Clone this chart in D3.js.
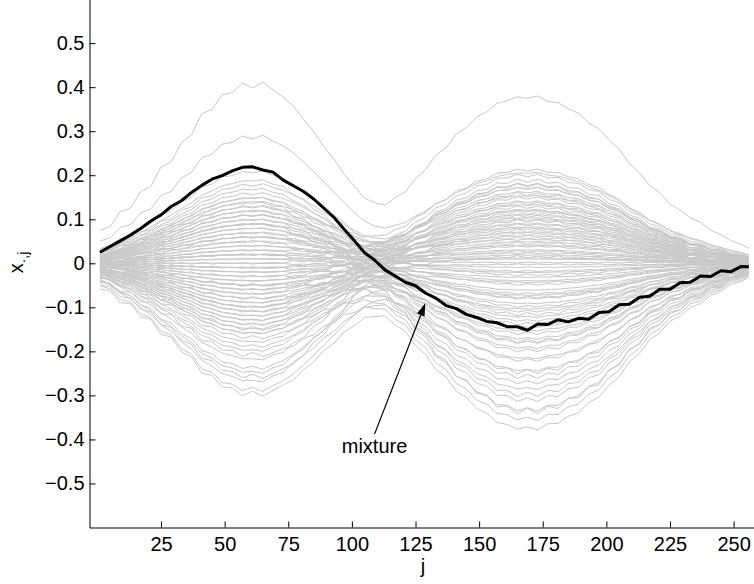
<!DOCTYPE html>
<html>

<head>
    <meta charset="utf-8">
    <title>Mixture</title>
    <script src="https://d3js.org/d3.v7.min.js"></script>
    <style>
        body { margin: 0; background: #fff; }
        text { font-family: "Liberation Sans", Arial, Helvetica, sans-serif; }
    </style>
</head>

<body>
    <svg width="754" height="584" id="mainSvg"></svg>
    <script>
        // sample positions j (every 4th column + last)
        const jSample = d3.range(1, 254, 4).concat([256]);

        // shape of the first bump (peak near j = 60)
        const comp1 = [0.15, 0.19, 0.26, 0.30, 0.38, 0.43, 0.52, 0.57, 0.66, 0.72,
            0.82, 0.86, 0.93, 0.95, 0.99, 0.98, 1.00, 0.95, 0.92, 0.84,
            0.78, 0.68, 0.61, 0.50, 0.42, 0.30, 0.23, 0.15, 0.12, 0.08,
            0.075, 0.05, 0.055, 0.035, 0.04, 0.025, 0.035, 0.02, 0.03, 0.015,
            0.03, 0.01, 0.03, 0.015, 0.025, 0.01, 0.03, 0.015, 0.025, 0.01,
            0.03, 0.015, 0.025, 0.01, 0.03, 0.015, 0.025, 0.01, 0.03, 0.015,
            0.025, 0.01, 0.03, 0.015, 0.02];

        // shape of the second bump (peak near j = 170)
        const comp2 = [0.035, 0.015, 0.03, 0.005, 0.02, -0.005, 0.015, -0.01, 0.01, -0.01,
            0.01, -0.01, 0.005, -0.005, 0.01, -0.01, 0.005, 0.01, 0.0, 0.035,
            0.02, 0.055, 0.04, 0.085, 0.08, 0.14, 0.145, 0.205, 0.225, 0.315,
            0.355, 0.465, 0.515, 0.625, 0.665, 0.765, 0.795, 0.875, 0.895, 0.965,
            0.965, 1.01, 0.98, 1.01, 0.965, 0.975, 0.915, 0.905, 0.835, 0.815,
            0.725, 0.685, 0.585, 0.545, 0.445, 0.415, 0.335, 0.315, 0.245, 0.235,
            0.175, 0.165, 0.105, 0.10, 0.07];

        // height of each grey curve at the two bumps
        const peak1 = [0.41, 0.29, 0.21, 0.19, 0.18, 0.17, 0.16, 0.15, 0.15, 0.14,
            0.13, 0.13, 0.12, 0.12, 0.11, 0.11, 0.10, 0.10, 0.09, 0.09,
            0.08, 0.08, 0.07, 0.07, 0.06, 0.06, 0.05, 0.05, 0.04, 0.04,
            0.03, 0.03, 0.02, 0.02, 0.01, 0.01, 0.00, 0.00, -0.01, -0.01,
            -0.02, -0.02, -0.03, -0.03, -0.04, -0.04, -0.05, -0.05, -0.06, -0.06,
            -0.07, -0.07, -0.08, -0.08, -0.09, -0.09, -0.10, -0.10, -0.11, -0.11,
            -0.12, -0.12, -0.13, -0.13, -0.14, -0.14, -0.15, -0.15, -0.16, -0.16,
            -0.17, -0.18, -0.19, -0.20, -0.21, -0.22, -0.24, -0.25, -0.26, -0.27,
            -0.29, -0.30, 0.02, -0.05, 0.09, 0.14, -0.01, 0.06, -0.10, 0.11];
        const peak2 = [0.37, 0.20, 0.05, -0.12, 0.15, -0.03, 0.10, -0.18, 0.02, 0.13,
            -0.08, 0.21, -0.25, 0.06, -0.02, 0.16, -0.14, 0.08, -0.05, 0.12,
            -0.10, 0.00, 0.17, -0.20, 0.04, -0.07, 0.11, -0.30, 0.07, -0.01,
            0.14, -0.11, 0.03, -0.16, 0.09, -0.04, 0.18, -0.08, 0.01, 0.12,
            -0.13, 0.05, -0.22, 0.10, -0.02, 0.15, -0.06, 0.02, -0.17, 0.08,
            0.19, -0.09, 0.04, -0.27, 0.13, -0.03, 0.06, -0.12, 0.16, -0.19,
            0.00, 0.09, -0.07, 0.11, -0.15, 0.03, -0.33, 0.14, -0.04, 0.07,
            -0.24, 0.10, -0.10, 0.05, -0.35, 0.12, -0.14, 0.02, -0.28, 0.08,
            -0.21, -0.37, 0.20, -0.31, -0.26, -0.34, -0.18, 0.17, 0.18, 0.01];

        // the highlighted mixture (black), same sample positions
        const mixture = [0.025, 0.038, 0.051, 0.064, 0.079, 0.096, 0.110, 0.129, 0.142, 0.161,
            0.177, 0.191, 0.199, 0.210, 0.218, 0.219, 0.212, 0.207, 0.189, 0.176,
            0.163, 0.146, 0.125, 0.104, 0.077, 0.051, 0.024, 0.007, -0.015, -0.029,
            -0.043, -0.051, -0.068, -0.079, -0.096, -0.103, -0.116, -0.123, -0.132, -0.135,
            -0.144, -0.144, -0.152, -0.138, -0.139, -0.128, -0.133, -0.125, -0.127, -0.112,
            -0.110, -0.094, -0.093, -0.077, -0.075, -0.059, -0.059, -0.044, -0.043, -0.029,
            -0.030, -0.017, -0.019, -0.007, -0.008];

        const xTicks = [25, 50, 75, 100, 125, 150, 175, 200, 225, 250];
        const yTicks = [-0.5, -0.4, -0.3, -0.2, -0.1, 0, 0.1, 0.2, 0.3, 0.4, 0.5];

        const arrowHead = { j: 128.9, v: -0.09 };
        const arrowTail = { j: 108.9, v: -0.388 };
        const labelPos = { j: 108.9, v: -0.431 };

        const svg = d3.select("#mainSvg");

        const xScale = d3.scaleLinear().domain([-3.1, 258]).range([89.5, 754]);
        const yScale = d3.scaleLinear().domain([-0.6, 0.6]).range([527.5, -0.9]);

        const line = d3.line()
            .x(d => xScale(d[0]))
            .y(d => yScale(d[1]));

        // grey curves = mix of the two bump shapes
        const greyData = peak1.map((a, i) =>
            jSample.map((j, k) => [j, a * comp1[k] + peak2[i] * comp2[k]]));

        const plot = svg.append("g");
        plot.selectAll(".grey").data(greyData).join("path")
            .attr("class", "grey")
            .attr("d", line)
            .attr("fill", "none")
            .attr("stroke", "#c8c8c8")
            .attr("stroke-width", 1);

        plot.append("path")
            .datum(jSample.map((j, k) => [j, mixture[k]]))
            .attr("d", line)
            .attr("fill", "none")
            .attr("stroke", "#000")
            .attr("stroke-width", 3)
            .attr("stroke-linejoin", "round");

        // axes, ticks inward
        const yAxis = d3.axisLeft(yScale).tickValues(yTicks)
            .tickFormat(d3.format(".1~f"))
            .tickSize(-6).tickSizeOuter(0).tickPadding(5);
        const xAxis = d3.axisBottom(xScale).tickValues(xTicks)
            .tickSize(-6).tickSizeOuter(0).tickPadding(9.5);

        const yG = svg.append("g").attr("transform", "translate(89.5,0)").call(yAxis);
        const xG = svg.append("g").attr("transform", "translate(0,527.5)").call(xAxis);
        [yG, xG].forEach(g => {
            g.selectAll("text").attr("font-size", 20).attr("fill", "#000")
                .attr("font-family", '"Liberation Sans", Arial, sans-serif');
            g.selectAll("path, line").attr("stroke", "#000");
        });

        // axis titles
        svg.append("text")
            .attr("x", 423).attr("y", 573)
            .attr("text-anchor", "middle")
            .attr("font-size", 20)
            .text("j");

        const yLab = svg.append("text")
            .attr("transform", "translate(23,262.5) rotate(-90)")
            .attr("text-anchor", "middle")
            .attr("font-size", 20);
        yLab.append("tspan").text("x");
        yLab.append("tspan").attr("font-size", 14).attr("dy", 5).text("\u00b7,j");

        // annotation arrow
        const hx = xScale(arrowHead.j), hy = yScale(arrowHead.v);
        const tx = xScale(arrowTail.j), ty = yScale(arrowTail.v);
        const ang = Math.atan2(hy - ty, hx - tx);
        const hl = 13, hw = 4;
        const bx = hx - hl * Math.cos(ang), by = hy - hl * Math.sin(ang);
        svg.append("line")
            .attr("x1", tx).attr("y1", ty).attr("x2", bx).attr("y2", by)
            .attr("stroke", "#000").attr("stroke-width", 1.2);
        svg.append("path")
            .attr("d", `M${hx},${hy}L${bx + hw * Math.sin(ang)},${by - hw * Math.cos(ang)}L${bx - hw * Math.sin(ang)},${by + hw * Math.cos(ang)}Z`)
            .attr("fill", "#000");

        svg.append("text")
            .attr("x", xScale(labelPos.j)).attr("y", yScale(labelPos.v))
            .attr("text-anchor", "middle")
            .attr("font-size", 20)
            .text("mixture");
    </script>
</body>

</html>
